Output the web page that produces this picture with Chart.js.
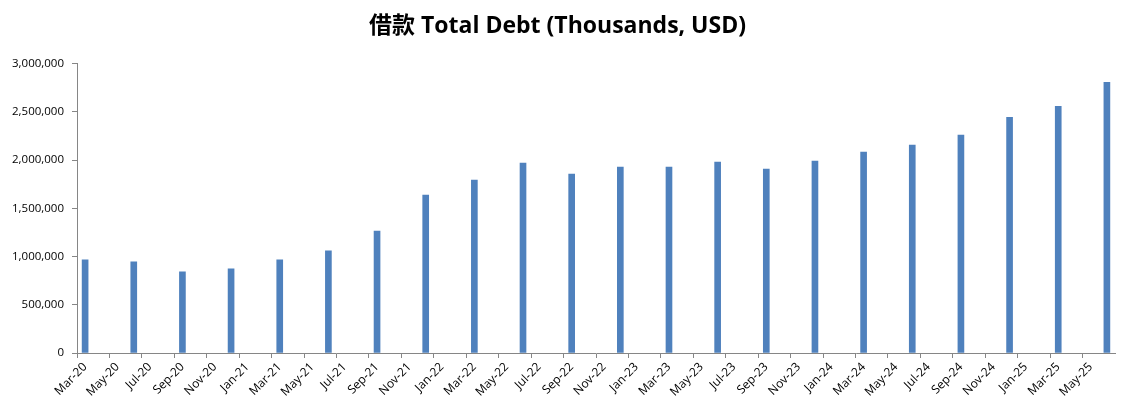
<!DOCTYPE html>
<html>
<head>
<meta charset="utf-8">
<script src="https://cdn.jsdelivr.net/npm/chart.js@4.4.1/dist/chart.umd.min.js"></script>
<style>
  body { margin: 0; background: #fff; }
  #wrap { width: 1129px; height: 417px; }
</style>
</head>
<body>
<div id="wrap"><canvas id="debtChart"></canvas></div>
<script>
// monthly slots on the x axis (date axis, base unit = month)
const months = [
    'Mar-20', 'Apr-20', 'May-20', 'Jun-20', 'Jul-20', 'Aug-20', 'Sep-20', 'Oct-20', 'Nov-20', 'Dec-20',
    'Jan-21', 'Feb-21', 'Mar-21', 'Apr-21', 'May-21', 'Jun-21', 'Jul-21', 'Aug-21', 'Sep-21', 'Oct-21', 'Nov-21', 'Dec-21',
    'Jan-22', 'Feb-22', 'Mar-22', 'Apr-22', 'May-22', 'Jun-22', 'Jul-22', 'Aug-22', 'Sep-22', 'Oct-22', 'Nov-22', 'Dec-22',
    'Jan-23', 'Feb-23', 'Mar-23', 'Apr-23', 'May-23', 'Jun-23', 'Jul-23', 'Aug-23', 'Sep-23', 'Oct-23', 'Nov-23', 'Dec-23',
    'Jan-24', 'Feb-24', 'Mar-24', 'Apr-24', 'May-24', 'Jun-24', 'Jul-24', 'Aug-24', 'Sep-24', 'Oct-24', 'Nov-24', 'Dec-24',
    'Jan-25', 'Feb-25', 'Mar-25', 'Apr-25', 'May-25', 'Jun-25'
];

// quarter-end reporting dates and total debt (thousands USD)
const quarters = [
    'Mar-20', 'Jun-20', 'Sep-20', 'Dec-20', 'Mar-21', 'Jun-21', 'Sep-21', 'Dec-21',
    'Mar-22', 'Jun-22', 'Sep-22', 'Dec-22', 'Mar-23', 'Jun-23', 'Sep-23', 'Dec-23',
    'Mar-24', 'Jun-24', 'Sep-24', 'Dec-24', 'Mar-25', 'Jun-25'
];
const totalDebt = [
    965000, 944000, 841000, 872000, 965000, 1058000, 1265000, 1638000,
    1793000, 1969000, 1855000, 1927000, 1927000, 1979000, 1907000, 1989000,
    2082000, 2155000, 2258000, 2444000, 2558000, 2806000
];

// labels shown every second month
const tickLabels = months.filter((m, i) => i % 2 === 0);

const yMax = 3000000;
const yStep = 500000;

// map quarterly values onto the monthly slots
const barData = months.map(m => {
    const qi = quarters.indexOf(m);
    return qi >= 0 ? totalDebt[qi] : null;
});

const axisGrey = '#868686';
const ctx = document.getElementById('debtChart').getContext('2d');

new Chart(ctx, {
    type: 'bar',
    data: {
        labels: months,
        datasets: [{
            label: 'Total Debt',
            data: barData,
            backgroundColor: '#4F81BD',
            barThickness: 6,
            skipNull: true
        }]
    },
    options: {
        responsive: true,
        maintainAspectRatio: false,
        animation: false,
        layout: { padding: { left: 0, right: 14, top: 0, bottom: 0 } },
        plugins: {
            legend: { display: false },
            tooltip: { enabled: false },
            title: {
                display: true,
                text: '借款 Total Debt (Thousands, USD)',
                color: '#000',
                font: { family: "'Open Sans', 'Noto Sans CJK SC', sans-serif", size: 23, weight: 'bold' },
                padding: { top: 13, bottom: 23 }
            }
        },
        scales: {
            x: {
                offset: true,
                grid: {
                    offset: true,
                    drawOnChartArea: false,
                    drawTicks: true,
                    tickLength: 5,
                    color: c => (c.index % 2 === 0 ? axisGrey : 'rgba(0,0,0,0)')
                },
                border: { display: true, color: axisGrey, width: 1 },
                ticks: {
                    autoSkip: false,
                    minRotation: 45,
                    maxRotation: 45,
                    padding: 2,
                    color: '#000',
                    font: { family: "'Open Sans', sans-serif", size: 12 },
                    callback: function (val) {
                        const lbl = this.getLabelForValue(val);
                        return tickLabels.includes(lbl) ? lbl : '';
                    }
                },
                afterFit: s => { s.height = 64; }
            },
            y: {
                min: 0,
                max: yMax,
                grid: { drawOnChartArea: false, drawTicks: true, tickLength: 5, color: axisGrey },
                border: { display: true, color: axisGrey, width: 1 },
                ticks: {
                    stepSize: yStep,
                    padding: 8,
                    color: '#000',
                    font: { family: "'Open Sans', sans-serif", size: 11.5 },
                    callback: v => v.toLocaleString('en-US')
                },
                afterFit: s => { s.width = 77; }
            }
        }
    }
});
</script>
</body>
</html>
